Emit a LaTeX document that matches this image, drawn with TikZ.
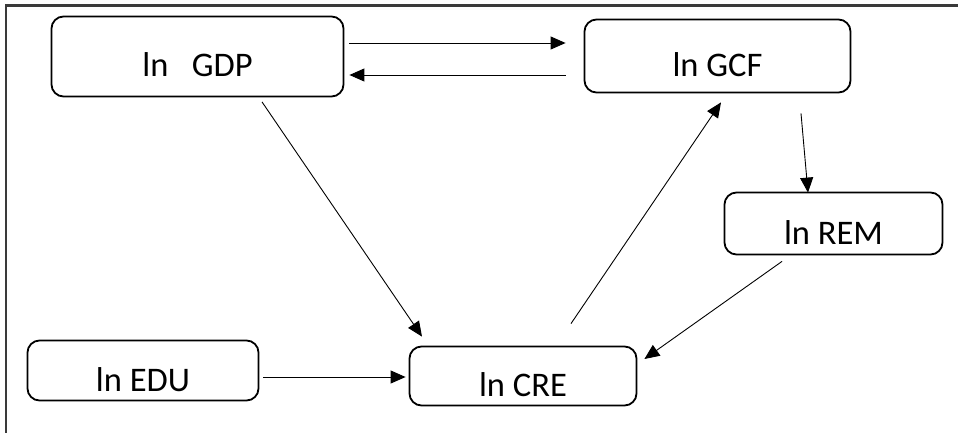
\documentclass[tikz,border=0pt]{standalone}
\usepackage{fontspec}
\setmainfont{Carlito}
\usetikzlibrary{arrows.meta,positioning,calc}
\definecolor{frame}{RGB}{58,58,58}

\begin{document}
\begin{tikzpicture}[x=1pt, y=1pt,
    var/.style={draw, line width=1.8pt, rounded corners=12pt, inner sep=2pt,
      text height=41pt, text depth=0pt, font=\fontsize{34.5}{40}\selectfont},
    arr/.style={line width=0.9pt, -{Triangle[length=15pt,width=13pt]}}]
  \useasboundingbox (0,0) rectangle (958,432);
  % outer frame (only left and top edges are in view)
  \draw[frame, line width=2.6pt] (6,-10) |- (970,426.7);

  \node[var, minimum width=292pt, minimum height=80pt] (gdp) at (197.5,375.5) {ln\ \ \ GDP};
  \node[var, minimum width=266pt, minimum height=73pt] (gcf) at (717.5,376) {ln GCF};
  \node[var, minimum width=218pt, minimum height=62pt] (rem) at (833.5,208.5) {ln REM};
  \node[var, minimum width=231pt, minimum height=60pt] (edu) at (143,61.5) {ln EDU};
  \node[var, minimum width=227pt, minimum height=59pt] (cre) at (523,56) {ln CRE};

  \draw[arr] ($(gdp.east)+(5,13.5)$) -- ($(gcf.west)+(-18,13)$);
  \draw[arr] ($(gcf.west)+(-18,-19)$) -- ($(gdp.east)+(5,-18.5)$);
  \draw[arr] ($(gdp.south)+(64.5,-4.5)$) -- ($(cre.north)+(-101,9)$);
  \draw[arr] ($(cre.north)+(48,22)$) -- ($(gcf.south)+(3.5,-9)$);
  \draw[arr] ($(gcf.south)+(83.5,-20)$) -- ($(rem.north)+(-25.5,-1)$);
  \draw[arr] ($(rem.south)+(-51.5,-6)$) -- ($(cre.east)+(7,17)$);
  \draw[arr] ($(edu.east)+(4,-6.5)$) -- ($(cre.west)+(-3,-1)$);
\end{tikzpicture}
\end{document}
